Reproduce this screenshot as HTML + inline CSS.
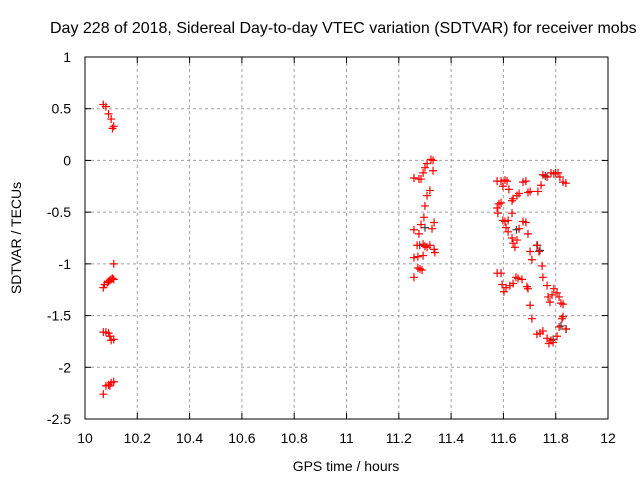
<!DOCTYPE html>
<html><head><meta charset="utf-8"><style>
body{margin:0;background:#fff;}
svg{display:block;font-family:"Liberation Sans",sans-serif;}
</style></head><body>
<svg id="chart" width="640" height="480">
<text x="50" y="33" font-size="16">Day 228 of 2018, Sidereal Day-to-day VTEC variation (SDTVAR) for receiver mobs</text>
<text transform="translate(21,238) rotate(-90)" text-anchor="middle" font-size="14">SDTVAR / TECUs</text>
<text x="346" y="471" text-anchor="middle" font-size="14">GPS time / hours</text>
<g id="grid"></g><g id="marks"></g>
<rect x="85" y="57" width="523" height="362" fill="none" stroke="#000" stroke-width="1"/>
</svg>
<script>
const xTicks=[10,10.2,10.4,10.6,10.8,11,11.2,11.4,11.6,11.8,12];
const yTicks=[1,0.5,0,-0.5,-1,-1.5,-2,-2.5];
const redT=[10.07,10.08,10.09,10.10,10.105,10.11,10.11,10.07,10.075,10.085,10.09,10.095,10.10,10.105,10.11,10.07,10.08,10.09,10.095,10.10,10.11,10.07,10.08,10.09,10.095,10.10,10.11,
11.323,11.331,11.308,11.300,11.293,11.331,11.258,11.277,11.285,11.319,11.308,11.300,11.296,11.335,11.285,11.258,11.327,11.277,11.270,11.293,11.300,11.308,11.319,11.335,11.338,11.258,11.273,11.293,11.273,11.281,11.289,11.258,
11.576,11.591,11.606,11.614,11.598,11.621,11.675,11.686,11.702,11.694,11.732,11.744,11.751,11.767,11.782,11.793,11.809,11.816,11.828,11.839,11.660,11.652,11.637,11.633,11.591,11.583,11.576,11.579,11.633,11.598,11.606,11.618,11.675,11.686,11.610,11.618,11.660,11.694,11.633,11.652,11.637,11.644,11.728,11.736,11.702,11.709,11.748,11.576,11.591,11.656,11.671,11.648,11.637,11.595,11.625,11.610,11.602,11.751,11.690,11.694,11.767,11.793,11.805,11.786,11.771,11.813,11.778,11.820,11.828,11.702,11.709,11.828,11.824,11.813,11.839,11.728,11.740,11.751,11.767,11.774,11.790,11.805,11.782];
const redY=[0.54,0.52,0.45,0.40,0.31,0.33,-1.0,-1.23,-1.2,-1.18,-1.17,-1.16,-1.15,-1.14,-1.15,-1.66,-1.66,-1.67,-1.70,-1.74,-1.73,-2.26,-2.18,-2.17,-2.18,-2.15,-2.14,
0.01,0.00,-0.03,-0.07,-0.12,-0.10,-0.17,-0.18,-0.18,-0.29,-0.34,-0.44,-0.55,-0.60,-0.62,-0.67,-0.66,-0.71,-0.82,-0.81,-0.83,-0.84,-0.82,-0.86,-0.89,-0.94,-0.93,-0.92,-1.04,-1.05,-1.06,-1.13,
-0.20,-0.20,-0.19,-0.20,-0.25,-0.28,-0.21,-0.20,-0.30,-0.31,-0.30,-0.24,-0.14,-0.16,-0.12,-0.13,-0.12,-0.16,-0.21,-0.22,-0.32,-0.34,-0.37,-0.39,-0.41,-0.42,-0.46,-0.51,-0.51,-0.58,-0.59,-0.58,-0.59,-0.60,-0.65,-0.69,-0.66,-0.71,-0.75,-0.77,-0.80,-0.84,-0.82,-0.88,-0.88,-0.96,-1.02,-1.09,-1.09,-1.14,-1.15,-1.13,-1.19,-1.20,-1.21,-1.23,-1.27,-1.13,-1.22,-1.24,-1.21,-1.24,-1.28,-1.30,-1.32,-1.32,-1.37,-1.38,-1.39,-1.40,-1.53,-1.51,-1.53,-1.61,-1.63,-1.68,-1.67,-1.65,-1.72,-1.77,-1.76,-1.70,-1.74];
const darkT=[11.73,11.74,11.76,11.80,11.82,11.84,11.65,11.79,11.30,11.28];
const darkY=[-0.82,-0.87,-0.15,-0.12,-1.60,-1.63,-0.67,-1.73,-0.65,-0.82];
const X0=85,X1=608,Y0=419,Y1=57;
const sx=v=>X0+(v-10)/(12-10)*(X1-X0);
const sy=v=>Y0-(v+2.5)/(1+2.5)*(Y0-Y1);
const NS='http://www.w3.org/2000/svg';
const grid=document.getElementById('grid'),marks=document.getElementById('marks');
function mk(t,a,p){const e=document.createElementNS(NS,t);for(const k in a)e.setAttribute(k,a[k]);p.appendChild(e);return e;}
xTicks.forEach((v,i)=>{const x=sx(v);
 if(i>0&&i<xTicks.length-1){const g=mk('line',{x1:x,x2:x,y1:Y1,y2:Y0,stroke:'#a0a0a0','stroke-dasharray':'3,3'},grid);
 
 }
 mk('line',{x1:x,x2:x,y1:Y0,y2:Y0-6,stroke:'#000'},grid);mk('line',{x1:x,x2:x,y1:Y1,y2:Y1+6,stroke:'#000'},grid);
 const t=mk('text',{x:x,y:443,'text-anchor':'middle','font-size':'14'},grid);t.textContent=String(v);
 
 });
yTicks.forEach((v,i)=>{const y=sy(v);
 if(i>0&&i<yTicks.length-1){const g=mk('line',{x1:X0,x2:X1,y1:y,y2:y,stroke:'#a0a0a0','stroke-dasharray':'3,3'},grid);
 
 }
 mk('line',{x1:X0,x2:X0+6,y1:y,y2:y,stroke:'#000'},grid);mk('line',{x1:X1,x2:X1-6,y1:y,y2:y,stroke:'#000'},grid);
 const t=mk('text',{x:71,y:y+5,'text-anchor':'end','font-size':'14'},grid);t.textContent=String(v);
 
 });
function plus(t,y,c,name){const x=sx(t),yy=sy(y);
 const p=mk('path',{d:`M${x-4},${yy}h8M${x},${yy-4}v8`,stroke:c,'stroke-width':'1.2',fill:'none'},marks);
 
 }
darkT.forEach((t,i)=>plus(t,darkY[i],'#404040','dark-point'));
redT.forEach((t,i)=>plus(t,redY[i],'#ff0000','red-point'));
</script>
</body></html>
